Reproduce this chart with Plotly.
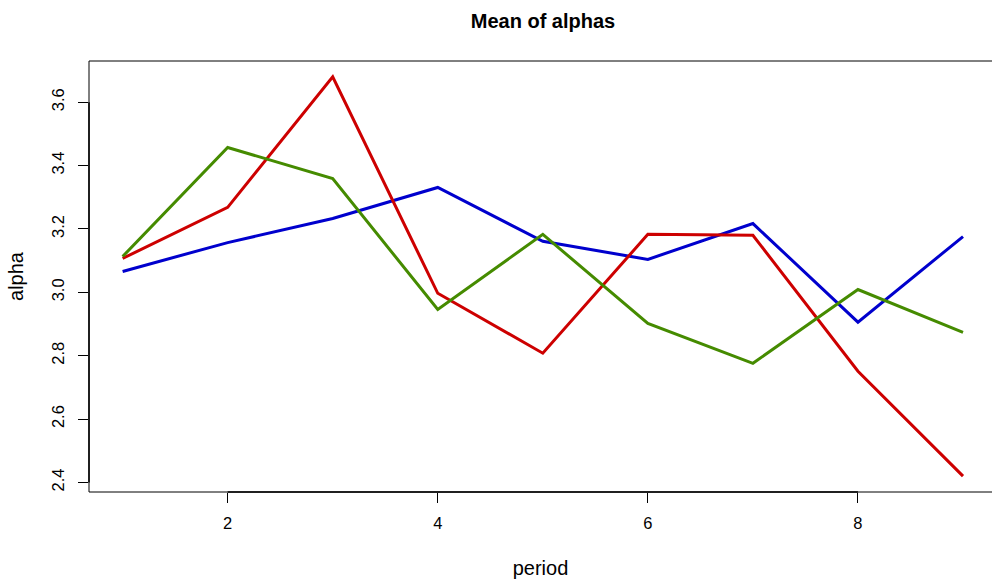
import plotly.graph_objects as go

period = [1, 2, 3, 4, 5, 6, 7, 8, 9]
blue_vals = [3.066, 3.157, 3.233, 3.331, 3.161, 3.104, 3.217, 2.906, 3.176]
red_vals = [3.107, 3.268, 3.680, 2.997, 2.808, 3.183, 3.180, 2.751, 2.420]
green_vals = [3.113, 3.457, 3.359, 2.946, 3.183, 2.902, 2.776, 3.009, 2.874]
x_ticks = [2, 4, 6, 8]
y_ticks = [2.4, 2.6, 2.8, 3.0, 3.2, 3.4, 3.6]
y_tick_text = ["2.4", "2.6", "2.8", "3.0", "3.2", "3.4", "3.6"]

FONT = "Liberation Sans, Arial, Helvetica, sans-serif"

fig = go.Figure()
for vals, col in [(blue_vals, "#0000CD"), (red_vals, "#CD0000"), (green_vals, "#458B00")]:
    fig.add_trace(go.Scatter(x=period, y=vals, mode="lines",
                             line=dict(color=col, width=3), showlegend=False))

xr = (0.68, 9.276)
yr = (2.37, 3.73)

fig.update_layout(
    width=992, height=579,
    margin=dict(l=89, r=0, t=61, b=87),
    paper_bgcolor="white", plot_bgcolor="white",
    font=dict(family=FONT, size=16.5, color="black"),
    title=dict(text="<b>Mean of alphas</b>", x=543/992, xanchor="center",
               y=1 - 21/579, yanchor="middle", font=dict(size=20, family=FONT)),
    xaxis=dict(range=list(xr), tickvals=x_ticks, ticks="outside", ticklen=10,
               tickcolor="black", showgrid=False, zeroline=False, showline=False,
               ticklabelstandoff=6,
               title=dict(text="period", standoff=30)),
    yaxis=dict(range=list(yr), tickvals=y_ticks, ticktext=y_tick_text, ticks="outside",
               ticklen=10, tickcolor="black", tickangle=-90, showgrid=False,
               zeroline=False, showline=False, ticklabelstandoff=7,
               title=dict(text="alpha", standoff=20)),
)

# box around plot region (right edge lies off-canvas as in the original)
fig.add_shape(type="rect", xref="paper", yref="paper", x0=0, y0=0, x1=1.05, y1=1,
              line=dict(color="black", width=1), layer="above")
# axis lines spanning first to last tick
fig.add_shape(type="line", xref="x", yref="paper", x0=x_ticks[0], x1=x_ticks[-1], y0=0, y1=0,
              line=dict(color="black", width=1.5))
fig.add_shape(type="line", xref="paper", yref="y", x0=0, x1=0, y0=y_ticks[0], y1=y_ticks[-1],
              line=dict(color="black", width=1.5))

fig.write_html("out.html", config={"displayModeBar": False},
               post_script="document.body.style.margin='0';")
